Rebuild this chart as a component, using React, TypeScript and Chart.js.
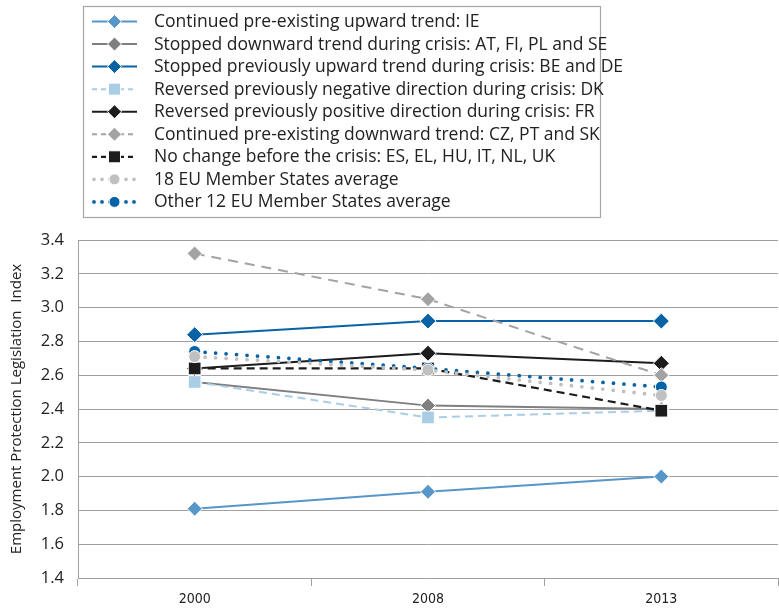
import React, { useEffect, useRef } from 'react';
import { Chart, registerables } from 'chart.js';

Chart.register(...registerables);

const years = ['2000', '2008', '2013'];
const ieValues = [1.81, 1.91, 2.0];
const atFiPlSeValues = [2.56, 2.42, 2.4];
const beDeValues = [2.84, 2.92, 2.92];
const dkValues = [2.56, 2.35, 2.39];
const frValues = [2.64, 2.73, 2.67];
const czPtSkValues = [3.32, 3.05, 2.6];
const noChangeValues = [2.64, 2.64, 2.39];
const eu18Values = [2.71, 2.63, 2.48];
const other12Values = [2.74, 2.64, 2.53];

const seriesLabels = [
  'Continued pre-existing upward trend: IE',
  'Stopped downward trend during crisis: AT, FI, PL and SE',
  'Stopped previously upward trend during crisis: BE and DE',
  'Reversed previously negative direction during crisis: DK',
  'Reversed previously positive direction during crisis: FR',
  'Continued pre-existing downward trend: CZ, PT and SK',
  'No change before the crisis: ES, EL, HU, IT, NL, UK',
  '18 EU Member States average',
  'Other 12 EU Member States average',
];
const yAxisTitle = 'Employment Protection Legislation  Index';
const yMin = 1.4;
const yMax = 3.4;
const yStep = 0.2;

const FONT = "'Open Sans', 'DejaVu Sans', sans-serif";
const NARROW = "'Liberation Sans Narrow', 'DejaVu Sans Condensed', 'Open Sans', sans-serif";

type Style = {
  color: string;
  marker: 'diamond' | 'square' | 'circle';
  radius: number;
  dash: number[];
  width: number;
  round?: boolean;
  order: number;
};

const styles: Style[] = [
  { color: '#5796c8', marker: 'diamond', radius: 7.5, dash: [], width: 2, order: 9 },
  { color: '#7f7f7f', marker: 'diamond', radius: 7.5, dash: [], width: 2, order: 8 },
  { color: '#0862a6', marker: 'diamond', radius: 8, dash: [], width: 2, order: 7 },
  { color: '#aacde6', marker: 'square', radius: 9, dash: [8, 5], width: 2, order: 6 },
  { color: '#1c1c1c', marker: 'diamond', radius: 8, dash: [], width: 2, order: 5 },
  { color: '#a3a3a3', marker: 'diamond', radius: 7.5, dash: [10, 7], width: 2, order: 4 },
  { color: '#1c1c1c', marker: 'square', radius: 9, dash: [8, 5], width: 2.2, order: 3 },
  { color: '#c0c0c0', marker: 'circle', radius: 6, dash: [0, 10.5], width: 3.8, round: true, order: 1 },
  { color: '#0862a6', marker: 'circle', radius: 6, dash: [0, 10.5], width: 3.8, round: true, order: 2 },
];

const seriesValues = [
  ieValues,
  atFiPlSeValues,
  beDeValues,
  dkValues,
  frValues,
  czPtSkValues,
  noChangeValues,
  eu18Values,
  other12Values,
];

const pointStyleFor = (m: Style['marker']) => (m === 'diamond' ? 'rectRot' : m === 'square' ? 'rect' : 'circle');

const legendPlugin = {
  id: 'customLegend',
  afterDraw(chart: any) {
    const ctx: CanvasRenderingContext2D = chart.ctx;
    ctx.save();
    ctx.strokeStyle = '#a6a6a6';
    ctx.lineWidth = 1.2;
    ctx.setLineDash([]);
    ctx.strokeRect(83.5, 6.5, 517, 211);
    seriesLabels.forEach((label, i) => {
      const s = styles[i];
      const y = 21.5 + i * 22.55;
      ctx.save();
      ctx.strokeStyle = s.color;
      ctx.lineWidth = s.width;
      ctx.lineCap = s.round ? 'round' : 'butt';
      if (s.round) ctx.setLineDash([0, 8]);
      else if (s.dash.length) ctx.setLineDash([5, 4]);
      else ctx.setLineDash([]);
      ctx.beginPath();
      if (s.round) {
        ctx.moveTo(94, y);
        ctx.lineTo(136, y);
      } else {
        ctx.moveTo(92, y);
        ctx.lineTo(137, y);
      }
      ctx.stroke();
      ctx.restore();
      const cx = 114.5;
      ctx.save();
      ctx.fillStyle = s.color;
      ctx.strokeStyle = '#ffffff';
      ctx.lineWidth = 1;
      ctx.setLineDash([]);
      ctx.beginPath();
      if (s.marker === 'diamond') {
        const r = 7;
        ctx.moveTo(cx - r, y);
        ctx.lineTo(cx, y - r);
        ctx.lineTo(cx + r, y);
        ctx.lineTo(cx, y + r);
        ctx.closePath();
      } else if (s.marker === 'square') {
        const h = 6;
        ctx.rect(cx - h, y - h, 2 * h, 2 * h);
      } else {
        ctx.arc(cx, y, 5.5, 0, Math.PI * 2);
      }
      ctx.fill();
      ctx.stroke();
      ctx.restore();
      ctx.fillStyle = '#222222';
      ctx.font = `17.5px ${FONT}`;
      ctx.textBaseline = 'middle';
      ctx.textAlign = 'left';
      ctx.fillText(label, 154, y + 0.5);
    });
    ctx.restore();
  },
};

export default function App() {
  const ref = useRef<HTMLCanvasElement>(null);
  useEffect(() => {
    document.body.style.margin = '0';
    const canvas = ref.current;
    if (!canvas) return;
    const chart = new Chart(canvas, {
      type: 'line',
      data: {
        labels: years,
        datasets: seriesLabels.map((label, i) => {
          const s = styles[i];
          return {
            label,
            data: seriesValues[i],
            borderColor: s.color,
            backgroundColor: s.color,
            borderWidth: s.width,
            borderDash: s.dash,
            borderCapStyle: s.round ? 'round' : 'butt',
            tension: 0,
            fill: false,
            pointStyle: pointStyleFor(s.marker),
            pointRadius: s.radius,
            pointHoverRadius: s.radius,
            pointBackgroundColor: s.color,
            pointBorderColor: '#ffffff',
            pointBorderWidth: 1,
            order: s.order,
          } as any;
        }),
      },
      options: {
        responsive: false,
        animation: false,
        devicePixelRatio: 1,
        layout: { autoPadding: false, padding: { top: 240, right: 1, left: 0, bottom: 0 } },
        plugins: {
          legend: { display: false },
          tooltip: { enabled: false },
          title: { display: false },
        },
        scales: {
          x: {
            type: 'category',
            offset: true,
            grid: {
              offset: true,
              drawOnChartArea: false,
              drawTicks: true,
              tickLength: 8,
              color: '#a0a0a0',
            },
            border: { display: true, color: '#a0a0a0' },
            ticks: { color: '#222222', padding: 5, font: { family: NARROW, size: 14 } },
            afterFit: (scale: any) => {
              scale.height = 32;
              scale.paddingLeft = 0;
              scale.paddingRight = 0;
            },
          },
          y: {
            min: yMin,
            max: yMax,
            grid: { color: '#a0a0a0', drawTicks: false },
            border: { display: true, color: '#a0a0a0' },
            ticks: {
              stepSize: yStep,
              padding: 14,
              color: '#222222',
              font: { family: FONT, size: 16.5 },
              callback: (v: any) => Number(v).toFixed(1),
            },
            title: {
              display: true,
              text: yAxisTitle,
              color: '#222222',
              font: { family: FONT, size: 15, weight: 'normal' },
              padding: { top: 8, bottom: 0 },
            },
            afterFit: (scale: any) => {
              scale.width = 78;
            },
          },
        },
      } as any,
      plugins: [legendPlugin],
    });
    return () => chart.destroy();
  }, []);
  return (
    <div style={{ width: 779, height: 610, background: '#fff' }}>
      <canvas ref={ref} width={779} height={610} style={{ display: 'block' }} />
    </div>
  );
}
